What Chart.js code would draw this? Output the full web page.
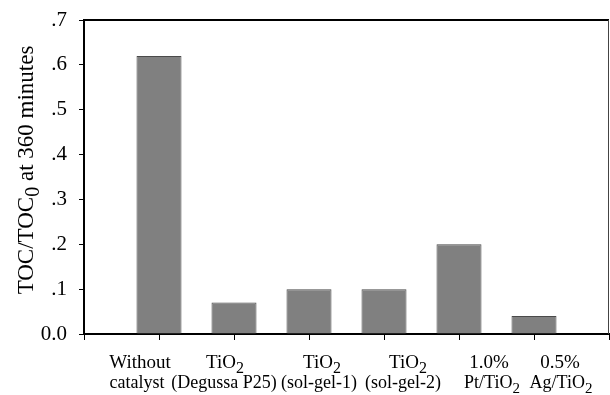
<!DOCTYPE html>
<html><head><meta charset="utf-8">
<script src="https://cdn.jsdelivr.net/npm/chart.js@4/dist/chart.umd.min.js"></script>
<style>html,body{margin:0;padding:0;background:#fff}#wrap{width:610px;height:395px}</style>
</head><body><div id="wrap"><canvas id="c"></canvas></div>
<script>
const categories = [['Without','catalyst'],['TiO₂','(Degussa P25)'],['TiO₂','(sol-gel-1)'],['TiO₂','(sol-gel-2)'],['1.0%','Pt/TiO₂'],['0.5%','Ag/TiO₂']];
const tocRatio = [0.62, 0.07, 0.10, 0.10, 0.20, 0.04];
const yTickLabels = ['0.0','.1','.2','.3','.4','.5','.6','.7'];
const yTitle = 'TOC/TOC₀ at 360 minutes';

// label placement tweaks (px, relative to each tick) to mimic the original typesetting
const labelShift = [[-19,-22],[-9,-10],[13,10],[24,19],[30,33],[26,27]];
const lineFontSize = [19, 18];

const labels = [''].concat(categories, ['']);
const data = [null].concat(tocRatio, [null]);

const SUB = { '₀': '0', '₂': '2' };
function runs(text) {
  const out = [];
  for (const ch of text) {
    const sub = ch in SUB;
    const c = sub ? SUB[ch] : ch;
    if (out.length && out[out.length - 1].sub === sub) out[out.length - 1].t += c;
    else out.push({ t: c, sub: sub });
  }
  return out;
}
function drawRich(ctx, text, cx, baseY, size) {
  const rs = runs(text);
  const fMain = size + 'px "Liberation Serif"', fSub = Math.round(size * 0.85) + 'px "Liberation Serif"';
  let w = 0;
  rs.forEach(r => { ctx.font = r.sub ? fSub : fMain; r.w = ctx.measureText(r.t).width; w += r.w; });
  let x = cx - w / 2;
  ctx.textAlign = 'left';
  ctx.textBaseline = 'alphabetic';
  rs.forEach(r => {
    ctx.font = r.sub ? fSub : fMain;
    ctx.fillText(r.t, x, baseY + (r.sub ? size * 0.25 : 0));
    x += r.w;
  });
}

const textPlugin = {
  id: 'texts',
  afterDraw(chart) {
    const a = chart.chartArea, ctx = chart.ctx, xs = chart.scales.x;
    ctx.save();
    ctx.fillStyle = '#000';
    categories.forEach((lines, i) => {
      const px = xs.getPixelForValue(i + 1);
      lines.forEach((ln, j) => drawRich(ctx, ln, px + labelShift[i][j], a.bottom + 34 + j * 20, lineFontSize[j]));
    });
    ctx.translate(a.left - 59, (a.top + a.bottom) / 2 - 7);
    ctx.rotate(-Math.PI / 2);
    drawRich(ctx, yTitle, 0, 8, 23);
    ctx.restore();
  }
};

const framePlugin = {
  id: 'frame',
  afterDatasetsDraw(chart) {
    const a = chart.chartArea, ctx = chart.ctx;
    ctx.save();
    ctx.strokeStyle = '#000';
    ctx.lineWidth = 2;
    ctx.beginPath();
    ctx.moveTo(a.left, a.top);
    ctx.lineTo(a.right, a.top);
    ctx.stroke();
    ctx.strokeStyle = '#444';
    ctx.lineWidth = 1;
    ctx.beginPath();
    ctx.moveTo(a.right - 0.5, a.top);
    ctx.lineTo(a.right - 0.5, a.bottom);
    ctx.stroke();
    ctx.restore();
  }
};

new Chart(document.getElementById('c'), {
  type: 'bar',
  data: { labels: labels, datasets: [{ data: data, backgroundColor: '#808080', borderColor: '#4a4a4a', borderWidth: 1, barPercentage: 0.6, categoryPercentage: 1 }] },
  options: {
    responsive: true, maintainAspectRatio: false, animation: false,
    layout: { padding: { top: 20, right: 1, left: 0, bottom: 0 } },
    plugins: { legend: { display: false }, tooltip: { enabled: false } },
    scales: {
      x: {
        offset: false,
        afterFit(s) { s.height = 61; s.paddingLeft = 0; s.paddingRight = 0; },
        grid: { offset: false, drawOnChartArea: false, tickLength: 6, color: '#000', tickColor: '#000' },
        border: { color: '#000', width: 2 },
        ticks: { display: false, autoSkip: false }
      },
      y: {
        min: 0, max: 0.7,
        afterFit(s) { s.width = 84; s.paddingTop = 0; s.paddingBottom = 0; },
        grid: { drawOnChartArea: false, tickLength: 5, color: '#000' },
        border: { color: '#000', width: 2 },
        ticks: { stepSize: 0.1, color: '#000', padding: 12,
          font: { family: 'Liberation Serif', size: 21 },
          callback: (v) => yTickLabels[Math.round(v * 10)] }
      }
    }
  },
  plugins: [framePlugin, textPlugin]
});
</script></body></html>
